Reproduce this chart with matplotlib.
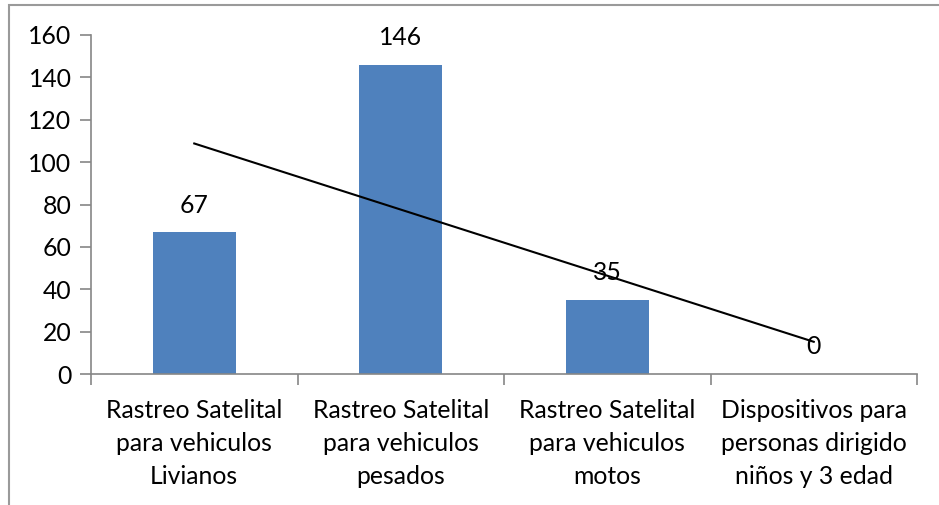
import numpy as np
import matplotlib
matplotlib.use("Agg")
import matplotlib.pyplot as plt
from matplotlib.patches import Rectangle

# servicios y cantidad de respuestas
categorias = [
    "Rastreo Satelital\npara vehiculos\nLivianos",
    "Rastreo Satelital\npara vehiculos\npesados",
    "Rastreo Satelital\npara vehiculos\nmotos",
    "Dispositivos para\npersonas dirigido\nniños y 3 edad",
]
valores = [67, 146, 35, 0]
yticks = [0, 20, 40, 60, 80, 100, 120, 140, 160]

plt.rcParams["font.family"] = ["Lato", "DejaVu Sans"]
gris = "#868686"
fs = 17.8

fig = plt.figure(figsize=(9.39, 5.05), dpi=100)
ax = fig.add_axes([91 / 939, 1 - 374 / 505, 826 / 939, 339 / 505])

x = np.arange(len(valores))
ax.bar(x, valores, width=0.4, color="#4F81BD", zorder=2)

# linea de tendencia lineal
m, b = np.polyfit(x, valores, 1)
ax.plot([x[0], x[-1]], [m * x[0] + b, m * x[-1] + b], color="black", lw=1.5, zorder=3)

for xi, v in zip(x, valores):
    ax.annotate(str(v), (xi, v), xytext=(0, 27), textcoords="offset pixels",
                ha="center", va="center", fontsize=fs, color="black", zorder=4)

ax.set_xlim(-0.5, len(valores) - 0.5)
ax.set_ylim(0, 160)
ax.set_yticks(yticks)
ax.set_xticks(np.arange(len(valores) + 1) - 0.5)
ax.set_xticklabels([])
ax.set_xticks(x, minor=True)
ax.set_xticklabels(categorias, minor=True, fontsize=fs, linespacing=1.52)
ax.tick_params(axis="x", which="minor", length=0, pad=18)
ax.tick_params(axis="x", which="major", length=8, width=1.2, color=gris, direction="out")
ax.tick_params(axis="y", length=8, width=1.2, color=gris, pad=6, labelsize=fs)

for s in ["top", "right"]:
    ax.spines[s].set_visible(False)
for s in ["left", "bottom"]:
    ax.spines[s].set_color(gris)
    ax.spines[s].set_linewidth(1.2)

# marco del grafico
fig.patches.append(Rectangle((9 / 939, -0.1), 1.2, 1.1 - 5 / 505, transform=fig.transFigure,
                             fill=False, edgecolor="#9a9a9a", lw=1.5))

fig.savefig("out.png", dpi=100)
